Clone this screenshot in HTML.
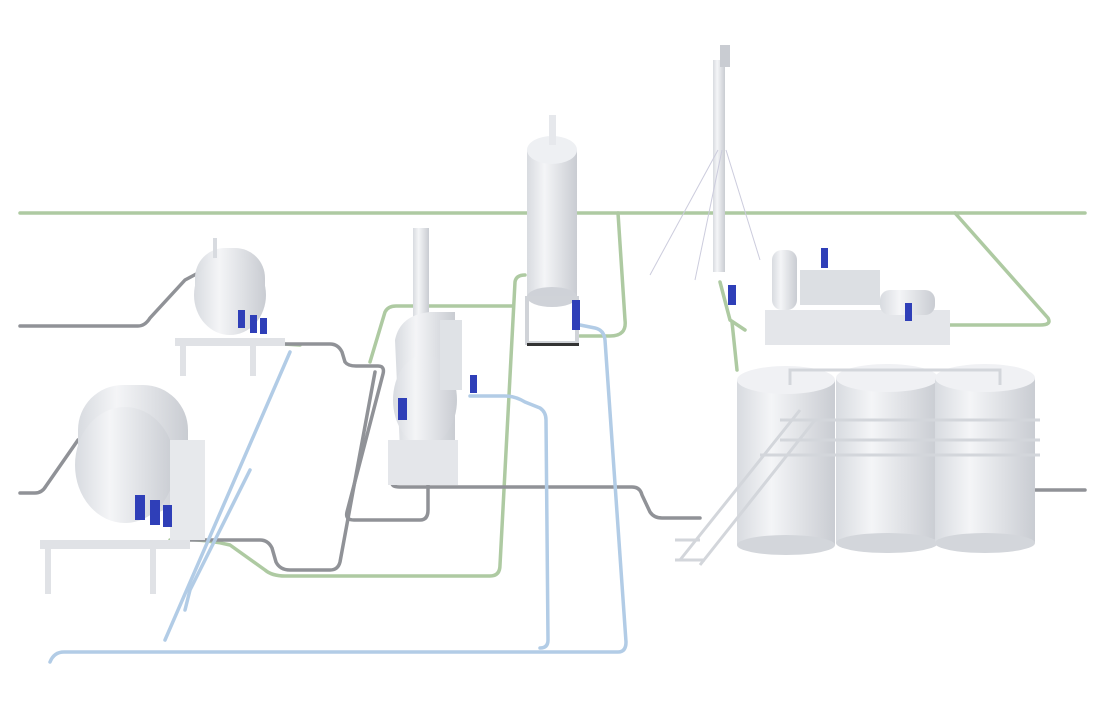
<!DOCTYPE html>
<html><head><meta charset="utf-8"><style>html,body{margin:0;padding:0;background:#fff;}svg{display:block}</style></head>
<body>
<svg width="1104" height="704" viewBox="0 0 1104 704" xmlns="http://www.w3.org/2000/svg">
<defs>
<linearGradient id="tk" x1="0" x2="1" y1="0" y2="0">
<stop offset="0" stop-color="#d8dbe0"/><stop offset="0.35" stop-color="#f4f5f7"/><stop offset="1" stop-color="#c9ccd2"/></linearGradient>
</defs>
<rect width="1104" height="704" fill="#fff"/>
<g fill="none" stroke-linecap="round" stroke-linejoin="round">
<g stroke="#aecaa2" stroke-width="3.5">
<path d="M20 213 H1085"/>
<path d="M618 213 L625 320 Q627 336 610 336 H580"/>
<path d="M955 213 L1048 318 Q1052 325 1040 325 H935"/>
<path d="M720 282 L730 320 L745 330"/>
<path d="M732 322 L737 370"/>
<path d="M170 540 Q200 538 230 545 L265 570 Q272 576 285 576 H490 Q500 576 500 565 L515 282 Q516 275 525 275"/>
<path d="M370 362 L385 312 Q388 306 396 306 H512"/>
<path d="M250 342 L300 345"/>
</g>
<g stroke="#909297" stroke-width="3.5">
<path d="M20 326 H138 Q145 326 150 318 L185 280 L200 272"/>
<path d="M20 493 H35 Q42 493 46 486 L78 440"/>
<path d="M258 344 H330 Q338 344 342 352 L345 362 Q348 366 356 366 H378 Q385 366 383 374 L347 512 Q345 520 354 520 H420 Q428 520 428 510 V470"/>
<path d="M180 540 H260 Q268 540 272 548 L276 562 Q280 570 290 570 H330 Q338 570 340 562 L375 372"/>
<path d="M392 470 V483 Q392 487 400 487 H632 Q640 487 642 495 L650 512 Q654 518 662 518 H700"/>
<path d="M1030 490 H1085"/>
</g>
<g stroke="#b2cce6" stroke-width="3.5">
<path d="M290 352 L165 640"/>
<path d="M250 470 L190 590 L185 610"/>
<path d="M50 662 Q54 652 64 652 H618 Q626 652 626 642 L605 340 Q604 330 595 328 L580 325"/>
<path d="M470 396 H505 Q515 396 525 402 L540 408 Q546 412 546 420 L548 640 Q548 648 540 648"/>
</g>
</g>
<g>
<rect x="527" y="150" width="50" height="148" fill="url(#tk)"/>
<ellipse cx="552" cy="150" rx="25" ry="14" fill="#eef0f3"/>
<ellipse cx="552" cy="297" rx="25" ry="10" fill="#cfd2d8"/>
<rect x="549" y="115" width="7" height="30" fill="#e6e8ec"/>
<rect x="527" y="298" width="50" height="45" fill="none" stroke="#d0d3d8" stroke-width="4"/>
<rect x="527" y="343" width="52" height="3" fill="#333"/>
<rect x="572" y="300" width="8" height="30" fill="#2f3fb8"/>
</g>
<g>
<rect x="713" y="60" width="12" height="212" fill="url(#tk)"/>
<rect x="720" y="45" width="10" height="22" fill="#c9ccd2"/>
<path d="M718 150 L650 275 M722 150 L695 280 M726 150 L760 260" stroke="#ccd" stroke-width="1" fill="none"/>
</g>
<rect x="413" y="228" width="16" height="90" fill="url(#tk)"/>
<g>
<path d="M395 340 Q400 315 430 312 H455 V450 H400 Z" fill="url(#tk)"/>
<ellipse cx="425" cy="400" rx="32" ry="45" fill="url(#tk)"/>
<rect x="388" y="440" width="70" height="45" fill="#e4e6ea"/>
<rect x="440" y="320" width="22" height="70" fill="#dfe2e6"/>
<rect x="398" y="398" width="9" height="22" fill="#2f3fb8"/>
<rect x="470" y="375" width="7" height="18" fill="#2f3fb8"/>
</g>
<g>
<rect x="195" y="248" width="70" height="72" rx="30" fill="url(#tk)"/>
<ellipse cx="230" cy="295" rx="36" ry="40" fill="url(#tk)"/>
<rect x="175" y="338" width="110" height="8" fill="#e0e2e6"/>
<rect x="180" y="346" width="6" height="30" fill="#e0e2e6"/>
<rect x="250" y="346" width="6" height="30" fill="#e0e2e6"/>
<rect x="213" y="238" width="4" height="20" fill="#d8dbe0"/>
<rect x="238" y="310" width="7" height="18" fill="#2f3fb8"/><rect x="250" y="315" width="7" height="18" fill="#2f3fb8"/><rect x="260" y="318" width="7" height="16" fill="#2f3fb8"/>
</g>
<g>
<rect x="78" y="385" width="110" height="130" rx="45" fill="url(#tk)"/>
<ellipse cx="125" cy="465" rx="50" ry="58" fill="url(#tk)"/>
<rect x="40" y="540" width="150" height="9" fill="#e0e2e6"/>
<rect x="45" y="549" width="6" height="45" fill="#e0e2e6"/>
<rect x="150" y="549" width="6" height="45" fill="#e0e2e6"/>
<rect x="170" y="440" width="35" height="100" fill="#e7e9ec"/>
<rect x="135" y="495" width="10" height="25" fill="#2f3fb8"/><rect x="150" y="500" width="10" height="25" fill="#2f3fb8"/><rect x="163" y="505" width="9" height="22" fill="#2f3fb8"/>
</g>
<g>
<rect x="765" y="310" width="185" height="35" fill="#e4e6ea"/>
<rect x="772" y="250" width="25" height="60" rx="10" fill="url(#tk)"/>
<rect x="800" y="270" width="80" height="35" fill="#dcdfe3"/>
<rect x="880" y="290" width="55" height="25" rx="10" fill="url(#tk)"/>
<rect x="821" y="248" width="7" height="20" fill="#2f3fb8"/>
<rect x="905" y="303" width="7" height="18" fill="#2f3fb8"/>
<rect x="728" y="285" width="8" height="20" fill="#2f3fb8"/>
</g>
<g>
<rect x="737" y="380" width="98" height="165" fill="url(#tk)"/>
<ellipse cx="786" cy="545" rx="49" ry="10" fill="#d3d6db"/>
<ellipse cx="786" cy="380" rx="49" ry="14" fill="#f0f1f4"/>
<rect x="836" y="378" width="102" height="165" fill="url(#tk)"/>
<ellipse cx="887" cy="543" rx="51" ry="10" fill="#d3d6db"/>
<ellipse cx="887" cy="378" rx="51" ry="14" fill="#f0f1f4"/>
<rect x="935" y="378" width="100" height="165" fill="url(#tk)"/>
<ellipse cx="985" cy="543" rx="50" ry="10" fill="#d3d6db"/>
<ellipse cx="985" cy="378" rx="50" ry="14" fill="#f0f1f4"/>
<g stroke="#d3d6db" stroke-width="3" fill="none">
<path d="M790 385 V370 H1000 V385"/>
<path d="M780 420 H1040 M780 440 H1040 M760 455 H1040"/>
<path d="M800 410 L680 560 M815 420 L700 565 M675 540 H700 M675 560 H705"/>
</g>
</g>
</svg>
</body></html>
